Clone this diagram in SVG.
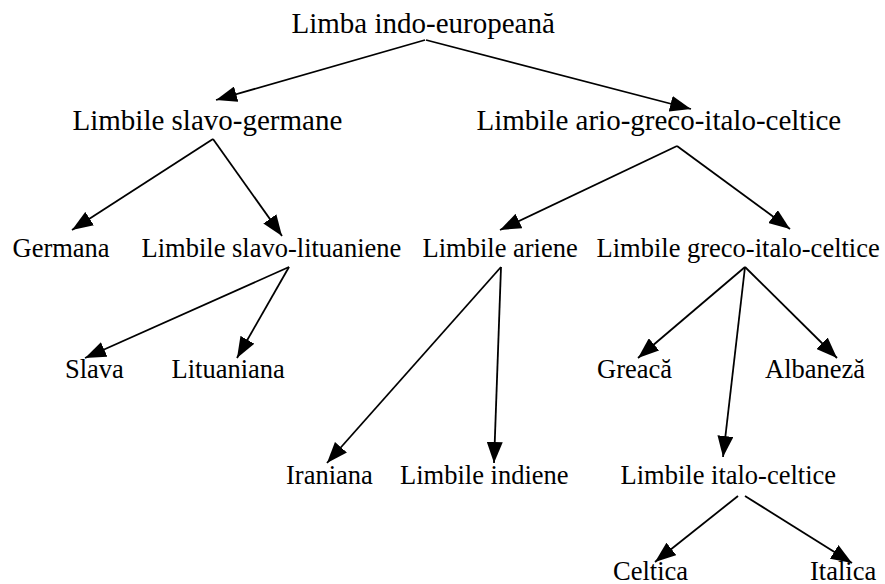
<svg xmlns="http://www.w3.org/2000/svg" width="885" height="584" viewBox="0 0 885 584">
<style>
  text { font-family: "Liberation Serif", "Times New Roman", serif; fill: #000; }
  .big { font-size: 29px; }
  .small { font-size: 26.5px; }
  .edge { stroke: #000; stroke-width: 1.8; fill: none; marker-end: url(#arrow); }
</style>
<defs>
  <marker id="arrow" markerUnits="userSpaceOnUse" markerWidth="21" markerHeight="16" refX="21" refY="8" orient="auto">
    <path d="M0,0 L21,8 L0,16 Z" fill="#000"/>
  </marker>
</defs>
<rect width="885" height="584" fill="#fff"/>
<g id="connectors">
  <line class="edge" x1="425" y1="40" x2="216" y2="100"/>
  <line class="edge" x1="426" y1="40" x2="691" y2="109"/>
  <line class="edge" x1="213" y1="139" x2="72" y2="230"/>
  <line class="edge" x1="213" y1="139" x2="282" y2="236"/>
  <line class="edge" x1="677" y1="146" x2="500" y2="230"/>
  <line class="edge" x1="677" y1="146" x2="790" y2="229"/>
  <line class="edge" x1="289" y1="267" x2="85" y2="358"/>
  <line class="edge" x1="289" y1="267" x2="237" y2="358"/>
  <line class="edge" x1="501" y1="267" x2="327" y2="463"/>
  <line class="edge" x1="501" y1="267" x2="494" y2="463"/>
  <line class="edge" x1="745" y1="267" x2="638" y2="358"/>
  <line class="edge" x1="745" y1="267" x2="837" y2="358"/>
  <line class="edge" x1="745" y1="267" x2="723" y2="457"/>
  <line class="edge" x1="738" y1="496" x2="655" y2="562"/>
  <line class="edge" x1="745" y1="496" x2="852" y2="563"/>
</g>
<g id="n_indo"><text class="big" x="291.5" y="33">Limba indo-europeană</text></g>
<g id="n_slavogerm"><text class="big" x="72.5" y="130">Limbile slavo-germane</text></g>
<g id="n_ario"><text class="big" x="476.5" y="130">Limbile ario-greco-italo-celtice</text></g>
<g id="n_germana"><text class="small" x="12.5" y="257">Germana</text></g>
<g id="n_slavolit"><text class="small" x="141.5" y="257">Limbile slavo-lituaniene</text></g>
<g id="n_ariene"><text class="small" x="422.5" y="257">Limbile ariene</text></g>
<g id="n_grecoitalo"><text class="small" x="596.5" y="257">Limbile greco-italo-celtice</text></g>
<g id="n_slava"><text class="small" x="65" y="378">Slava</text></g>
<g id="n_lituaniana"><text class="small" x="171.5" y="378">Lituaniana</text></g>
<g id="n_greaca"><text class="small" x="597" y="378">Greacă</text></g>
<g id="n_albaneza"><text class="small" x="765" y="378">Albaneză</text></g>
<g id="n_iraniana"><text class="small" x="286" y="484">Iraniana</text></g>
<g id="n_indiene"><text class="small" x="400" y="484">Limbile indiene</text></g>
<g id="n_italoceltice"><text class="small" x="620.5" y="484">Limbile italo-celtice</text></g>
<g id="n_celtica"><text class="small" x="613" y="580">Celtica</text></g>
<g id="n_italica"><text class="small" x="810" y="580">Italica</text></g>
</svg>
